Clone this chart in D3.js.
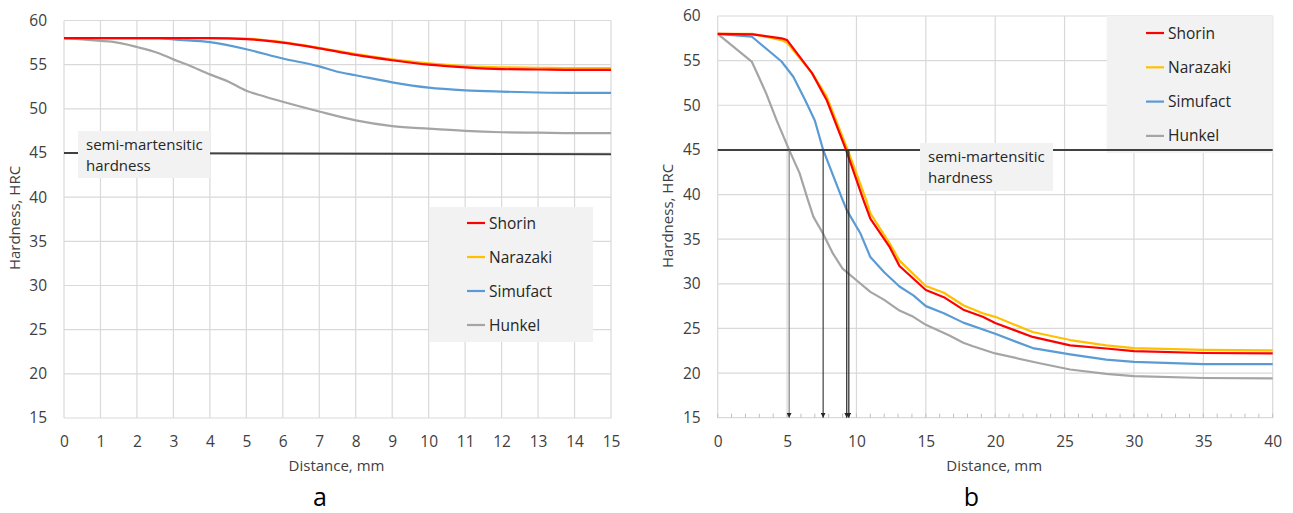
<!DOCTYPE html>
<html>
<head>
<meta charset="utf-8">
<script src="https://cdn.jsdelivr.net/npm/d3@7"></script>
<style>
  body { margin: 0; background: #fff; }
  text { font-family: "Open Sans", sans-serif; }
</style>
</head>
<body>
<div id="chart"></div>
<script>
// series names and colours (same in both panels)
const seriesNames = ["Shorin", "Narazaki", "Simufact", "Hunkel"];
const seriesColors = ["#ff0000", "#ffc000", "#5b9bd5", "#a5a5a5"];

// panel a: [distance mm, HRC]
const aShorin = [[0,58],[1,58],[2,58],[3,58],[4,58],[5,57.9],[6,57.5],[7,56.85],[8,56.1],[9,55.5],[10,55.0],[11,54.7],[12,54.5],[13,54.45],[14,54.4],[15,54.4]];
const aNarazaki = [[0,58],[1,58],[2,58],[3,58],[4,58],[5,57.95],[6,57.55],[7,56.9],[8,56.2],[9,55.6],[10,55.15],[11,54.85],[12,54.7],[13,54.65],[14,54.6],[15,54.6]];
const aSimufact = [[0,58],[1,58],[2,58],[2.6,58],[3,57.85],[4,57.55],[5,56.75],[6,55.7],[7,54.8],[7.5,54.2],[8,53.8],[9,53.0],[10,52.4],[11,52.1],[12,51.95],[13,51.85],[14,51.8],[15,51.8]];
const aHunkel = [[0,58],[0.5,57.85],[1,57.7],[1.3,57.6],[2,57.0],[2.6,56.3],[3,55.6],[3.5,54.8],[4,53.9],[4.5,53.1],[5,52.05],[5.5,51.4],[6,50.8],[7,49.7],[8,48.7],[9,48.05],[10,47.75],[11,47.5],[12,47.35],[13,47.3],[14,47.25],[15,47.25]];
const aSemi = [[0,45],[15,44.85]];

// panel b
const bShorin = [[0,58],[2.5,57.95],[4.6,57.5],[5,57.3],[6.8,53.6],[7.85,50.6],[9.25,45],[10.5,39.4],[11,37.3],[12.4,34.1],[13.1,32.0],[15,29.3],[16.3,28.5],[17.7,27.1],[19.1,26.3],[20,25.6],[22.7,24.05],[25.4,23.1],[28,22.75],[30,22.45],[35,22.25],[40,22.2]];
const bNarazaki = [[0,58],[2.5,58],[4.6,57.3],[5,57.0],[6.8,53.6],[7.85,51.0],[9.37,45],[10.7,39.4],[11,37.9],[12.4,34.5],[13.1,32.6],[15,29.75],[16.3,29.0],[17.7,27.6],[19.1,26.7],[20,26.3],[22.7,24.6],[25.4,23.7],[28,23.1],[30,22.8],[35,22.6],[40,22.55]];
const bSimufact = [[0,58],[2.45,57.7],[4.6,54.9],[5.45,53.2],[6.3,50.6],[7,48.3],[7.6,45],[9,39.4],[9.3,38.25],[10.3,35.6],[11,33.0],[12,31.3],[13.1,29.7],[14.1,28.7],[15,27.5],[16.3,26.7],[17.7,25.65],[20,24.4],[22.7,22.8],[25.4,22.1],[28,21.5],[30,21.25],[35,21.0],[40,21.0]];
const bHunkel = [[0,58],[2.45,54.9],[2.9,53.4],[3.5,51.3],[4.25,48.3],[5.15,45],[5.9,42.4],[6.5,39.4],[6.9,37.5],[7.6,35.6],[8.3,33.4],[9,31.7],[10,30.4],[11,29.1],[12,28.2],[13.1,27.0],[14.1,26.3],[15,25.4],[16.7,24.2],[17.7,23.4],[18.4,23.0],[20,22.2],[23.2,21.1],[25.4,20.4],[28,19.9],[30,19.65],[35,19.45],[40,19.4]];
const bSemi = [[0,45],[40,45]];
const bArrowX = [5.15, 7.6, 9.3, 9.45];
const bArrowColors = ["#808080", "#404040", "#262626", "#262626"];

// ticks
const yTicks = [15, 20, 25, 30, 35, 40, 45, 50, 55, 60];
const aXTicks = d3.range(0, 16);
const bXTicks = [0, 5, 10, 15, 20, 25, 30, 35, 40];
const bMinorTicks = d3.range(0, 41);

const width = 1293;
const height = 513;

const svg = d3.select("#chart")
  .append("svg")
  .attr("width", width)
  .attr("height", height);

svg.append("defs").append("marker")
  .attr("id", "arrow")
  .attr("viewBox", "0 0 10 10")
  .attr("refX", 10)
  .attr("refY", 5)
  .attr("markerWidth", 5)
  .attr("markerHeight", 5)
  .attr("markerUnits", "userSpaceOnUse")
  .attr("orient", "auto")
  .append("path")
  .attr("d", "M0,0L10,5L0,10Z")
  .attr("fill", "#262626");

function drawPanel(p) {
  const x = d3.scaleLinear().domain(p.xDomain).range(p.xRange);
  const y = d3.scaleLinear().domain([15, 60]).range(p.yRange);
  const g = svg.append("g");

  //grid lines
  g.append("g").selectAll("line").data(yTicks).join("line")
    .attr("x1", x(p.xDomain[0])).attr("x2", x(p.xDomain[1]))
    .attr("y1", d => y(d)).attr("y2", d => y(d))
    .attr("stroke", "#d9d9d9").attr("stroke-width", 1.2);
  g.append("g").selectAll("line").data(p.xTicks).join("line")
    .attr("x1", d => x(d)).attr("x2", d => x(d))
    .attr("y1", y(15)).attr("y2", y(60))
    .attr("stroke", "#d9d9d9").attr("stroke-width", 1.2);

  if (p.minor) {
    g.append("g").selectAll("line").data(p.minor).join("line")
      .attr("x1", d => x(d)).attr("x2", d => x(d))
      .attr("y1", y(15)).attr("y2", y(15) - 4)
      .attr("stroke", "#bfbfbf");
  }

  //axes
  const ax = g.append("g")
    .attr("transform", `translate(0,${y(15)})`)
    .call(d3.axisBottom(x).tickValues(p.xTicks).tickSize(0).tickPadding(18).tickFormat(d3.format("d")));
  const ay = g.append("g")
    .attr("transform", `translate(${x(0)},0)`)
    .call(d3.axisLeft(y).tickValues(yTicks).tickSize(0).tickPadding(17));
  [ax, ay].forEach(a => {
    a.select(".domain").remove();
    a.attr("font-family", "Open Sans, sans-serif").attr("font-size", 15.5).style("color", "#404040");
  });

  g.append("text")
    .attr("x", (x.range()[0] + x.range()[1]) / 2 - 1)
    .attr("y", 471)
    .attr("text-anchor", "middle")
    .attr("font-size", 15)
    .attr("fill", "#404040")
    .text("Distance, mm");
  g.append("text")
    .attr("transform", `translate(${p.yTitleX},${p.yTitleY}) rotate(-90)`)
    .attr("text-anchor", "middle")
    .attr("font-size", 15)
    .attr("fill", "#404040")
    .text("Hardness, HRC");

  //series
  const line = d3.line().x(d => x(d[0])).y(d => y(d[1])).curve(p.curve);
  p.series.slice().reverse().forEach((s, i) => {
    const k = p.series.length - 1 - i;
    g.append("path")
      .datum(s)
      .attr("d", line)
      .attr("fill", "none")
      .attr("stroke", seriesColors[k])
      .attr("stroke-width", 2.2)
      .attr("stroke-linejoin", "round");
  });

  //legend
  const lg = g.append("g");
  lg.append("rect")
    .attr("x", p.legend.x).attr("y", p.legend.y)
    .attr("width", p.legend.w).attr("height", p.legend.h)
    .attr("fill", "#f2f2f2");
  seriesNames.forEach((name, i) => {
    const cy = p.legend.y + p.legend.rowTop + i * p.legend.rowStep;
    lg.append("line")
      .attr("x1", p.legend.lineX).attr("x2", p.legend.lineX + 18)
      .attr("y1", cy).attr("y2", cy)
      .attr("stroke", seriesColors[i]).attr("stroke-width", 2.2);
    lg.append("text")
      .attr("x", p.legend.lineX + 22).attr("y", cy + 5.5)
      .attr("font-size", 15.5)
      .attr("fill", "#262626")
      .text(name);
  });

  //semi-martensitic hardness line
  g.append("path")
    .datum(p.semi)
    .attr("d", d3.line().x(d => x(d[0])).y(d => y(d[1])))
    .attr("fill", "none")
    .attr("stroke", "#404040")
    .attr("stroke-width", 2);

  //arrows down to the axis
  if (p.arrows) {
    g.append("g").selectAll("line").data(p.arrows).join("line")
      .attr("x1", d => x(d)).attr("x2", d => x(d))
      .attr("y1", y(45)).attr("y2", y(15))
      .attr("stroke", (d, i) => bArrowColors[i])
      .attr("stroke-width", 1.2)
      .attr("marker-end", "url(#arrow)");
  }

  //annotation box
  const nb = p.note;
  g.append("rect")
    .attr("x", nb.x).attr("y", nb.y).attr("width", nb.w).attr("height", nb.h)
    .attr("fill", "#f2f2f2");
  g.append("text")
    .attr("x", nb.x + 8).attr("y", nb.y + 19)
    .attr("font-size", 15)
    .attr("fill", "#262626")
    .text("semi-martensitic");
  g.append("text")
    .attr("x", nb.x + 8).attr("y", nb.y + 39.5)
    .attr("font-size", 15)
    .attr("fill", "#262626")
    .text("hardness");

  //panel letter
  svg.append("text")
    .attr("x", p.letterX).attr("y", 506)
    .attr("text-anchor", "middle")
    .attr("font-family", "Liberation Sans, Arial, sans-serif")
    .attr("font-size", 25)
    .attr("fill", "#000")
    .text(p.letter);
}

drawPanel({
  xDomain: [0, 15], xRange: [64, 611], yRange: [418, 20.5],
  xTicks: aXTicks,
  series: [aShorin, aNarazaki, aSimufact, aHunkel],
  semi: aSemi,
  curve: d3.curveMonotoneX,
  yTitleX: 20, yTitleY: 218,
  legend: { x: 429, y: 207, w: 164, h: 135, rowTop: 16, rowStep: 34, lineX: 467 },
  note: { x: 78, y: 131, w: 132, h: 47 },
  letter: "a", letterX: 320
});

drawPanel({
  xDomain: [0, 40], xRange: [717.7, 1272.7], yRange: [417.7, 16],
  xTicks: bXTicks,
  minor: bMinorTicks,
  series: [bShorin, bNarazaki, bSimufact, bHunkel],
  semi: bSemi,
  arrows: bArrowX,
  curve: d3.curveLinear,
  yTitleX: 673, yTitleY: 216,
  legend: { x: 1106.7, y: 16, w: 166, h: 137, rowTop: 17, rowStep: 34.3, lineX: 1146 },
  note: { x: 920, y: 143, w: 133, h: 48 },
  letter: "b", letterX: 971.5
});
</script>
</body>
</html>
